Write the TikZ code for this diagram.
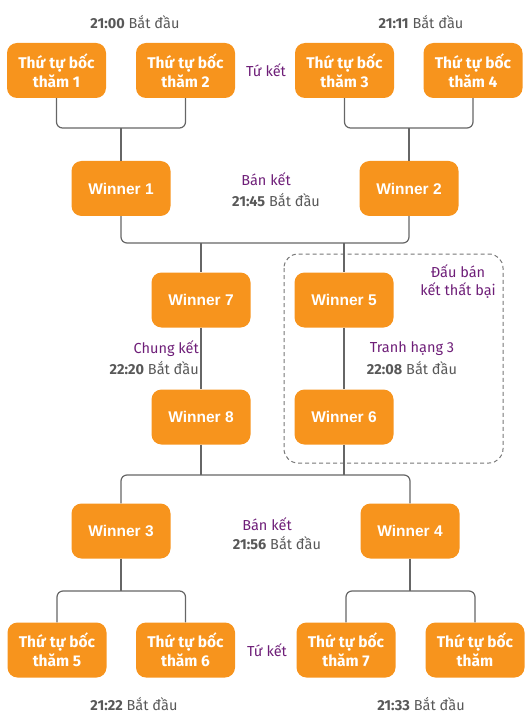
\documentclass[tikz,border=0pt]{standalone}
\usepackage{fontspec}
\setmainfont{Fira Sans}
\newfontfamily\winfont{Liberation Sans}
\definecolor{orng}{HTML}{F7941D}
\definecolor{purp}{HTML}{6E1E78}
\definecolor{txtgray}{HTML}{585858}
\definecolor{linegray}{HTML}{666666}
\definecolor{dashgray}{HTML}{777777}
\tikzset{
  box/.style={fill=orng, rounded corners=10pt, minimum width=99pt, minimum height=55pt,
    text=white, font=\fontsize{15.5}{19}\selectfont\bfseries, align=center, inner sep=0pt},
  win/.style={box, font=\winfont\fontsize{15.5}{19}\selectfont\bfseries},
  conn/.style={draw=linegray, line width=1.2pt, rounded corners=6pt},
  lbl/.style={text=purp, font=\fontsize{14.5}{18}\selectfont, inner sep=0pt, align=center},
  tm/.style={text=txtgray, font=\fontsize{14.5}{18}\selectfont, inner sep=0pt}
}
\begin{document}
\begin{tikzpicture}[x=1pt,y=-1pt]
\useasboundingbox (0,0) rectangle (531,727);
% dashed group
\draw[dashgray, line width=1pt, dash pattern=on 4pt off 3pt, rounded corners=14pt] (284,254) rectangle (503,463);
% top boxes
\node[box] (b1) at (56.5,70.5) {Thứ tự bốc\\thăm 1};
\node[box] (b2) at (185.5,70.5) {Thứ tự bốc\\thăm 2};
\node[box] (b3) at (344.5,70.5) {Thứ tự bốc\\thăm 3};
\node[box] (b4) at (473,70.5) {Thứ tự bốc\\thăm 4};
\node[win] (w1) at (121,188.5) {Winner 1};
\node[win] (w2) at (409,188.5) {Winner 2};
\node[win] (w7) at (201,300) {Winner 7};
\node[win] (w5) at (344,300) {Winner 5};
\node[win] (w8) at (201,417) {Winner 8};
\node[win] (w6) at (344,417) {Winner 6};
\node[win] (w3) at (121,531) {Winner 3};
\node[win] (w4) at (410,531) {Winner 4};
\node[box] (b5) at (57,650) {Thứ tự bốc\\thăm 5};
\node[box] (b6) at (185.5,650) {Thứ tự bốc\\thăm 6};
\node[box] (b7) at (346,650) {Thứ tự bốc\\thăm 7};
\node[box] (b8) at (475,650) {Thứ tự bốc\\thăm};
% junction coordinates
\coordinate (j1) at (121,128);
\coordinate (j2) at (409,128);
\coordinate (j3) at (201,243);
\coordinate (j4) at (344,243);
\coordinate (j5) at (201,475);
\coordinate (j6) at (344,475);
\coordinate (j7) at (121,591);
\coordinate (j8) at (410,591);
% connectors
\draw[conn] (b1.south) |- (j1) -| (b2.south);
\draw[conn] (j1) -- (w1.north);
\draw[conn] (b3.south) |- (j2) -| (b4.south);
\draw[conn] (j2) -- (w2.north);
\draw[conn] (w1.south) |- (j3) -- (j4) -| (w2.south);
\draw[conn] (j3) -- (w7.north);
\draw[conn] (j4) -- (w5.north);
\draw[conn] (w7.south) -- (w8.north);
\draw[conn] (w5.south) -- (w6.north);
\draw[conn] (w8.south) -- (j5);
\draw[conn] (w6.south) -- (j6);
\draw[conn] (w3.north) |- (j5) -- (j6) -| (w4.north);
\draw[conn] (w3.south) -- (j7);
\draw[conn] (b5.north) |- (j7) -| (b6.north);
\draw[conn] (w4.south) -- (j8);
\draw[conn] (b7.north) |- (j8) -| (b8.north);
% labels
\node[tm] (t1) at (135,22) {\textbf{21:00} Bắt đầu};
\node[tm] (t2) at (421,22) {\textbf{21:11} Bắt đầu};
\node[lbl] (l1) at (266,70) {Tứ kết};
\node[lbl] (l2) at (266,179) {Bán kết};
\node[tm] (t3) at (276,200) {\textbf{21:45} Bắt đầu};
\node[lbl] (l3) at (458,281) {Đấu bán\\kết thất bại};
\node[lbl, anchor=east] (l4) at (199,349) {Chung kết};
\node[tm, anchor=east] (t4) at (199,368) {\textbf{22:20} Bắt đầu};
\node[lbl] (l5) at (412,349) {Tranh hạng 3};
\node[tm] (t5) at (412,368) {\textbf{22:08} Bắt đầu};
\node[lbl] (l6) at (267,524) {Bán kết};
\node[tm] (t6) at (277,543) {\textbf{21:56} Bắt đầu};
\node[lbl] (l7) at (267,650) {Tứ kết};
\node[tm] (t7) at (134,704) {\textbf{21:22} Bắt đầu};
\node[tm] (t8) at (421,704) {\textbf{21:33} Bắt đầu};
\end{tikzpicture}
\end{document}
